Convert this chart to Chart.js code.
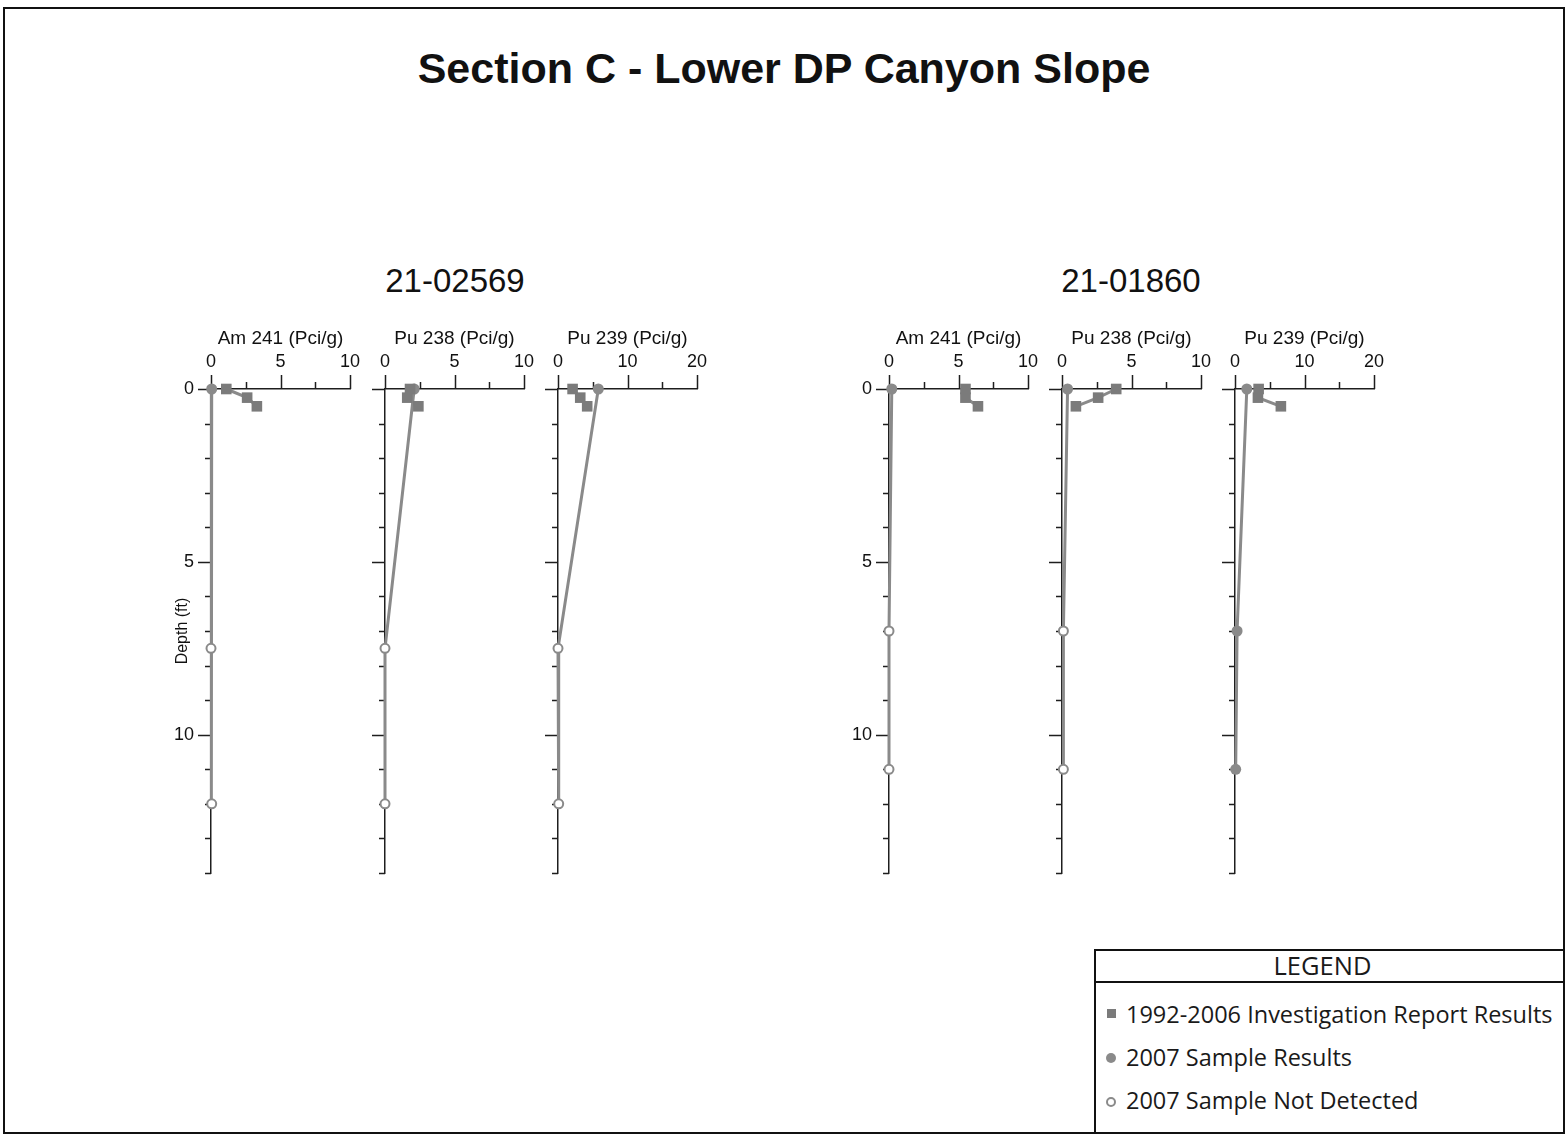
<!DOCTYPE html>
<html>
<head>
<meta charset="utf-8">
<title>Section C - Lower DP Canyon Slope</title>
<script src="https://cdn.jsdelivr.net/npm/chart.js@4.4.1/dist/chart.umd.min.js"></script>
<style>
  html, body { margin: 0; padding: 0; background: #fff; }
  #page {
    position: relative; width: 1568px; height: 1134px; overflow: hidden;
    font-family: "Liberation Sans", Arial, sans-serif; color: #111;
  }
  #frame {
    position: absolute; left: 3px; top: 7px; width: 1562px; height: 1127px;
    box-sizing: border-box; border: 2px solid #111;
  }
  .main-title {
    position: absolute; left: 0; top: 43px; width: 1568px; line-height: 50px;
    text-align: center; font-size: 43px; font-weight: bold;
  }
  .group-title {
    position: absolute; top: 261px; width: 240px; line-height: 40px;
    text-align: center; font-size: 33px;
  }
  canvas { position: absolute; }
  #legend {
    position: absolute; left: 1094px; top: 949px; width: 471px; height: 185px;
    box-sizing: border-box; border: 2px solid #111;
    font-family: "Open Sans", "Noto Sans", sans-serif; color: #1a1a1a;
  }
  #legend .head {
    height: 30px; line-height: 28px; border-bottom: 2px solid #111;
    text-align: center; font-size: 25.5px; padding-right: 14px;
  }
  #legend .row {
    position: absolute; left: 30px; height: 30px; line-height: 30px;
    font-size: 23.5px; white-space: nowrap;
  }
  #legend .sym { position: absolute; }
  .sym.sq { width: 9px; height: 9px; background: #7b7b7b; }
  .sym.dot { width: 10px; height: 10px; border-radius: 50%; background: #8a8a8a; }
  .sym.ring { width: 6px; height: 6px; border-radius: 50%; border: 2px solid #8a8a8a; background: #fff; }
</style>
</head>
<body>
<div id="page">
  <div id="frame"></div>
  <div class="main-title">Section C - Lower DP Canyon Slope</div>
  <div class="group-title" style="left:335px">21-02569</div>
  <div class="group-title" style="left:1011px">21-01860</div>

  <canvas id="c1"></canvas>
  <canvas id="c2"></canvas>
  <canvas id="c3"></canvas>
  <canvas id="c4"></canvas>
  <canvas id="c5"></canvas>
  <canvas id="c6"></canvas>

  <div id="legend">
    <div class="head">LEGEND</div>
    <span class="sym sq" style="left:11px;top:58px"></span>
    <div class="row" style="top:48px">1992-2006 Investigation Report Results</div>
    <span class="sym dot" style="left:10px;top:102px"></span>
    <div class="row" style="top:91px">2007 Sample Results</div>
    <span class="sym ring" style="left:10px;top:146px"></span>
    <div class="row" style="top:134px">2007 Sample Not Detected</div>
  </div>
</div>

<script>
// ---- Data (depth in ft, activity in pCi/g) ----
const analytes = ["Am 241 (Pci/g)", "Pu 238 (Pci/g)", "Pu 239 (Pci/g)"];
const axisMax = [10, 10, 20];
const depthMax = 14;

// 1992-2006 investigation report results
const reportDepth_02569 = [0, 0.25, 0.5];
const reportAm241_02569 = [1.1, 2.6, 3.3];
const reportPu238_02569 = [1.8, 1.6, 2.4];
const reportPu239_02569 = [2.1, 3.2, 4.2];

const reportDepth_01860 = [0, 0.25, 0.5];
const reportAm241_01860 = [5.5, 5.5, 6.4];
const reportPu238_01860 = [3.9, 2.6, 1.0];
const reportPu239_01860 = [3.4, 3.3, 6.6];

// 2007 sample results (detected = filled circle, otherwise open circle)
const sampleDepth_02569 = [0, 7.5, 12];
const sampleAm241_02569 = [0.05, 0, 0.05];
const sampleAm241Det_02569 = [true, false, false];
const samplePu238_02569 = [2.1, 0, 0];
const samplePu238Det_02569 = [true, false, false];
const samplePu239_02569 = [5.8, 0, 0.1];
const samplePu239Det_02569 = [true, false, false];

const sampleDepth_01860 = [0, 7, 11];
const sampleAm241_01860 = [0.2, 0, 0];
const sampleAm241Det_01860 = [true, false, false];
const samplePu238_01860 = [0.4, 0.1, 0.1];
const samplePu238Det_01860 = [true, false, false];
const samplePu239_01860 = [1.7, 0.3, 0.1];
const samplePu239Det_01860 = [true, true, true];

// ---- Layout of the plot areas on the page ----
const plotLeft = [211, 385, 558, 889, 1062, 1235];
const plotTop = 389;
const plotW = 139;
const plotH = 484;
const yBox = 60;   // space for y labels / title left of the axis
const xBox = 75;   // space for x labels / title above the axis
const padR = 30;   // must exceed the label overflow chart.js reserves
const padB = 34;

const FONT = '"Liberation Sans", Arial, sans-serif';
Chart.defaults.font.family = FONT;
Chart.defaults.color = "#111";

const AXIS = "#1e1e1e";
const LINE = "#8a8a8a";
const MARK = "#7b7b7b";

// tick marks drawn from the scales' own ticks (long at labelled values)
const tickMarks = {
  id: "tickMarks",
  beforeDatasetsDraw(chart) {
    const { ctx, chartArea, scales: { x, y } } = chart;
    ctx.save();
    ctx.strokeStyle = AXIS;
    ctx.lineWidth = 1.5;
    ctx.beginPath();
    x.ticks.forEach((t) => {
      const px = Math.round(x.getPixelForValue(t.value)) + 0.5;
      const len = t.value % (x.max / 2) === 0 ? 14 : 7;
      ctx.moveTo(px, chartArea.top);
      ctx.lineTo(px, chartArea.top - len);
    });
    y.ticks.forEach((t) => {
      const py = Math.round(y.getPixelForValue(t.value)) + 0.5;
      const len = t.value % 5 === 0 ? 13 : 6;
      ctx.moveTo(chartArea.left, py);
      ctx.lineTo(chartArea.left - len, py);
    });
    ctx.stroke();
    ctx.restore();
  },
};

function zip(vals, depths) {
  return vals.map((v, i) => ({ x: v, y: depths[i] }));
}

function makePanel(idx, label, xmax, rDepth, rVals, sDepth, sVals, sDet, showYLabels, showYTitle) {
  const canvas = document.getElementById("c" + (idx + 1));
  const w = yBox + plotW + padR;
  const h = xBox + plotH + padB;
  canvas.width = w;
  canvas.height = h;
  canvas.style.left = plotLeft[idx] - yBox + "px";
  canvas.style.top = plotTop - xBox + "px";
  canvas.style.width = w + "px";
  canvas.style.height = h + "px";

  return new Chart(canvas, {
    type: "scatter",
    data: {
      datasets: [
        {
          label: "1992-2006 Investigation Report Results",
          data: zip(rVals, rDepth),
          showLine: true,
          borderColor: LINE,
          borderWidth: 3,
          pointStyle: "rect",
          pointRadius: 7.5,
          backgroundColor: MARK,
          pointBorderWidth: 0,
          clip: false,
        },
        {
          label: "2007 Sample Results",
          data: zip(sVals, sDepth),
          showLine: true,
          borderColor: LINE,
          borderWidth: 3,
          pointStyle: "circle",
          pointRadius: sDet.map((d) => (d ? 5.5 : 4.5)),
          pointBackgroundColor: sDet.map((d) => (d ? LINE : "#fff")),
          pointBorderColor: LINE,
          pointBorderWidth: sDet.map((d) => (d ? 0 : 2)),
          clip: false,
        },
      ],
    },
    options: {
      responsive: false,
      animation: false,
      events: [],
      layout: { padding: { left: 0, right: padR, top: 0, bottom: padB } },
      plugins: { legend: { display: false }, tooltip: { enabled: false } },
      scales: {
        x: {
          type: "linear",
          position: "top",
          min: 0,
          max: xmax,
          afterFit: (s) => { s.height = xBox; },
          grid: { display: false, drawTicks: false },
          border: { display: true, color: AXIS, width: 1.5 },
          ticks: {
            stepSize: xmax / 4,
            autoSkip: false,
            maxRotation: 0,
            padding: 16,
            font: { size: 18 },
            callback: (v) => (v % (xmax / 2) === 0 ? v : ""),
          },
          title: {
            display: true,
            text: label,
            padding: { top: 13, bottom: 0 },
            font: { size: 19 },
          },
        },
        y: {
          type: "linear",
          reverse: true,
          min: 0,
          max: depthMax,
          afterFit: (s) => { s.width = yBox; },
          grid: { display: false, drawTicks: false },
          border: { display: true, color: AXIS, width: 1.5 },
          ticks: {
            stepSize: 1,
            autoSkip: false,
            padding: 17,
            font: { size: 18 },
            callback: (v) => (showYLabels && v % 5 === 0 ? v : ""),
          },
          title: {
            display: showYTitle,
            text: "Depth (ft)",
            padding: { top: 22, bottom: 0 },
            font: { size: 16 },
          },
        },
      },
    },
    plugins: [tickMarks],
  });
}

// 21-02569
makePanel(0, analytes[0], axisMax[0], reportDepth_02569, reportAm241_02569,
  sampleDepth_02569, sampleAm241_02569, sampleAm241Det_02569, true, true);
makePanel(1, analytes[1], axisMax[1], reportDepth_02569, reportPu238_02569,
  sampleDepth_02569, samplePu238_02569, samplePu238Det_02569, false, false);
makePanel(2, analytes[2], axisMax[2], reportDepth_02569, reportPu239_02569,
  sampleDepth_02569, samplePu239_02569, samplePu239Det_02569, false, false);

// 21-01860
makePanel(3, analytes[0], axisMax[0], reportDepth_01860, reportAm241_01860,
  sampleDepth_01860, sampleAm241_01860, sampleAm241Det_01860, true, false);
makePanel(4, analytes[1], axisMax[1], reportDepth_01860, reportPu238_01860,
  sampleDepth_01860, samplePu238_01860, samplePu238Det_01860, false, false);
makePanel(5, analytes[2], axisMax[2], reportDepth_01860, reportPu239_01860,
  sampleDepth_01860, samplePu239_01860, samplePu239Det_01860, false, false);
</script>
</body>
</html>
